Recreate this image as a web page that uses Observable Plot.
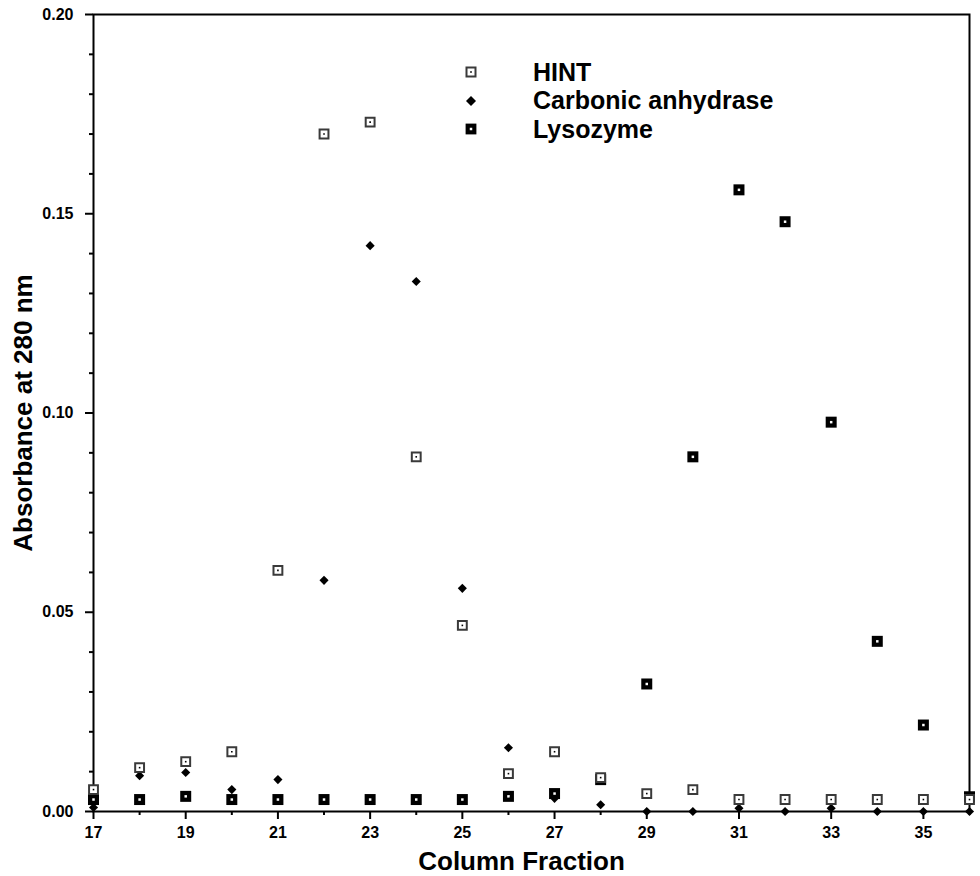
<!DOCTYPE html>
<html>
<head>
<meta charset="utf-8">
<script src="https://cdn.jsdelivr.net/npm/d3@7"></script>
<script src="https://cdn.jsdelivr.net/npm/@observablehq/plot@0.6"></script>
<style>
  html, body { margin: 0; padding: 0; background: #fff; }
  #wrap { position: relative; width: 980px; height: 876px; font-family: "Liberation Sans", Arial, sans-serif; }
  #legend { position: absolute; left: 462px; top: 58px; font-weight: bold; font-size: 25px; }
  .row { display: flex; align-items: center; height: 28.5px; }
  .row svg { width: 18px; height: 18px; margin-right: 53px; }
</style>
</head>
<body>
<div id="wrap">
  <div id="chart"></div>
  <div id="legend"></div>
</div>
<script>
const fractions = [17,18,19,20,21,22,23,24,25,26,27,28,29,30,31,32,33,34,35,36];
const hintValues = [0.0055,0.011,0.0125,0.015,0.0605,0.170,0.173,0.089,0.0467,0.0095,0.015,0.0085,0.0045,0.0055,0.003,0.003,0.003,0.003,0.003,0.003];
const carbonicValues = [0.001,0.009,0.0098,0.0055,0.008,0.058,0.142,0.133,0.056,0.016,0.0033,0.0017,0,0,0.0008,0,0.0008,0,0,0];
const lysozymeValues = [0.003,0.003,0.0038,0.003,0.003,0.003,0.003,0.003,0.003,0.0038,0.0045,0.008,0.032,0.089,0.156,0.148,0.0977,0.0427,0.0217,0.0037];
const seriesNames = ["HINT", "Carbonic anhydrase", "Lysozyme"];
const xMajorTicks = [17,19,21,23,25,27,29,31,33,35];
const xMinorTicks = [18,20,22,24,26,28,30,32,34,36];
const yMajorTicks = [0,0.05,0.10,0.15,0.20];
const yMinorTicks = [0.01,0.02,0.03,0.04,0.06,0.07,0.08,0.09,0.11,0.12,0.13,0.14,0.16,0.17,0.18,0.19];
const xTitle = "Column Fraction";
const yTitle = "Absorbance at 280 nm";

const hint = fractions.map((x, i) => ({x, y: hintValues[i]}));
const carbonic = fractions.map((x, i) => ({x, y: carbonicValues[i]}));
const lyso = fractions.map((x, i) => ({x, y: lysozymeValues[i]}));

const font = "Liberation Sans, Arial, sans-serif";

const chart = Plot.plot({
  width: 980,
  height: 876,
  marginLeft: 93,
  marginRight: 11,
  marginTop: 14,
  marginBottom: 65,
  style: {fontFamily: font, background: "white", overflow: "visible"},
  x: {domain: [17, 36]},
  y: {domain: [0, 0.20]},
  marks: [
    Plot.axisX({ticks: xMinorTicks, tickSize: 4, tickFormat: () => "", label: null, strokeWidth: 2}),
    Plot.axisX({ticks: xMajorTicks, tickSize: 8, tickPadding: 7, tickFormat: d3.format("d"), label: null, fontSize: 16, fontWeight: "bold", strokeWidth: 2}),
    Plot.axisY({ticks: yMinorTicks, tickSize: 4, tickFormat: () => "", label: null, strokeWidth: 2}),
    Plot.axisY({ticks: yMajorTicks, tickSize: 8, tickPadding: 12, tickFormat: d3.format(".2f"), label: null, fontSize: 16, fontWeight: "bold", strokeWidth: 2}),
    Plot.axisY({ticks: [], tickSize: 0, label: yTitle, labelAnchor: "center", labelOffset: 80, labelArrow: "none", fontSize: 26, fontWeight: "bold"}),
    Plot.frame({stroke: "black", strokeWidth: 2}),
    Plot.dot(carbonic, {x: "x", y: "y", symbol: "diamond2", r: 4.1, fill: "black", stroke: "none"}),
    Plot.dot(lyso, {x: "x", y: "y", symbol: "square", r: 6.2, fill: "black", stroke: "none"}),
    Plot.dot(lyso, {x: "x", y: "y", symbol: "square", r: 1.4, fill: "white", stroke: "none"}),
    Plot.dot(hint, {x: "x", y: "y", symbol: "square", r: 5.0, fill: "white", stroke: "#3a3a3a", strokeWidth: 2}),
    Plot.dot(hint, {x: "x", y: "y", symbol: "square", r: 0.9, fill: "black", stroke: "none"}),
    Plot.text([xTitle], {frameAnchor: "bottom", dx: -10, dy: 58, fontSize: 26, fontWeight: "bold", fill: "black"})
  ]
});
document.getElementById("chart").appendChild(chart);

const symbolSvgs = [
  '<svg viewBox="-9 -9 18 18"><rect x="-4.5" y="-4.5" width="9" height="9" fill="white" stroke="#3a3a3a" stroke-width="2"/><rect x="-0.8" y="-0.8" width="1.6" height="1.6" fill="black"/></svg>',
  '<svg viewBox="-9 -9 18 18"><path d="M0,-5L5,0L0,5L-5,0Z" fill="black"/></svg>',
  '<svg viewBox="-9 -9 18 18"><rect x="-5.4" y="-5.4" width="10.8" height="10.8" fill="black"/><rect x="-1.25" y="-1.25" width="2.5" height="2.5" fill="white"/></svg>'
];
const legend = document.getElementById("legend");
seriesNames.forEach((name, i) => {
  const row = document.createElement("div");
  row.className = "row";
  row.innerHTML = symbolSvgs[i] + "<span>" + name + "</span>";
  legend.appendChild(row);
});
</script>
</body>
</html>
